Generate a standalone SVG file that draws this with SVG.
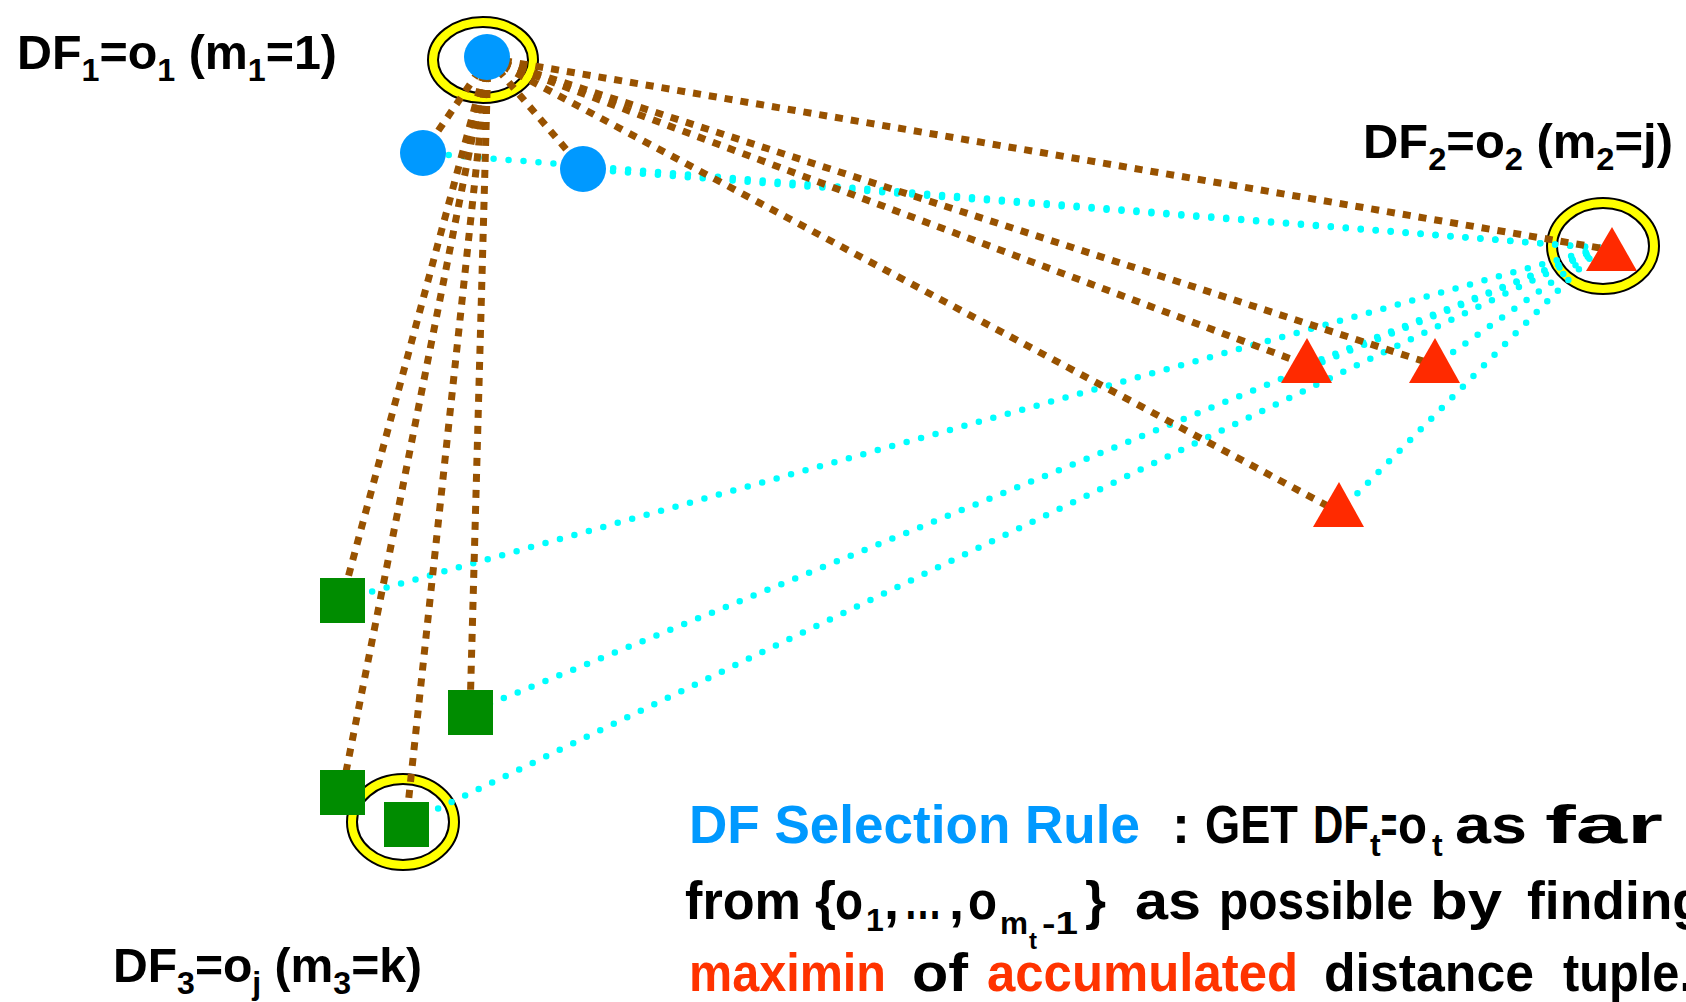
<svg xmlns="http://www.w3.org/2000/svg" width="1686" height="1002" viewBox="0 0 1686 1002">
<style>
.brown{stroke:#985200;stroke-width:7;stroke-dasharray:8 8;fill:none}
.cyan{stroke:#00FFFF;stroke-width:6.5;stroke-linecap:round;stroke-dasharray:0 15;fill:none}
.ringO{fill:none;stroke:#000;stroke-width:12}
.ringI{fill:none;stroke:#FFFF00;stroke-width:8}
.blue{fill:#0099FF}
.red{fill:#FF2A00}
.green{fill:#008C00}
.lbl{font-family:"Liberation Sans",Arial,sans-serif;font-weight:bold;font-size:48px;fill:#000}
.rule{font-family:"Liberation Sans",Arial,sans-serif;font-weight:bold;font-size:54px;fill:#000}
.sub{font-size:32px}
.cb{fill:#0099FF}
.cr{fill:#FF3300}
</style>
<rect width="1686" height="1002" fill="#fff"/>
<g id="highlights">
<ellipse class="ringO" cx="483" cy="60" rx="50" ry="38"/><ellipse class="ringI" cx="483" cy="60" rx="50" ry="38"/>
<ellipse class="ringO" cx="1603" cy="246" rx="51" ry="43"/><ellipse class="ringI" cx="1603" cy="246" rx="51" ry="43"/>
<ellipse class="ringO" cx="403" cy="822" rx="51" ry="43"/><ellipse class="ringI" cx="403" cy="822" rx="51" ry="43"/>
</g>
<g id="connectors">
<g class="cyan">
<line x1="1600" y1="248" x2="423" y2="153"/>
<line x1="1600" y1="248" x2="583" y2="169"/>
<line x1="1600" y1="248" x2="1307" y2="365"/>
<line x1="1600" y1="248" x2="1435" y2="365"/>
<line x1="1600" y1="248" x2="1339" y2="512"/>
<line x1="1600" y1="248" x2="342" y2="600"/>
<line x1="1600" y1="248" x2="470" y2="712"/>
<line x1="1600" y1="248" x2="406" y2="824"/>
</g>
<g class="brown">
<line x1="488" y1="58" x2="423" y2="153"/>
<line x1="488" y1="58" x2="583" y2="169"/>
<line x1="488" y1="58" x2="1600" y2="248"/>
<line x1="488" y1="58" x2="1307" y2="365"/>
<line x1="488" y1="58" x2="1435" y2="365"/>
<line x1="488" y1="58" x2="1339" y2="512"/>
<line x1="488" y1="58" x2="342" y2="600"/>
<line x1="488" y1="58" x2="470" y2="712"/>
<line x1="488" y1="58" x2="342" y2="792"/>
<line x1="488" y1="58" x2="406" y2="824"/>
</g>
</g>
<g id="o1"><circle class="blue" cx="487" cy="57" r="23"/></g>
<g id="b2"><circle class="blue" cx="423" cy="153" r="23"/></g>
<g id="b3"><circle class="blue" cx="583" cy="169" r="23"/></g>
<g id="o2"><polygon class="red" points="1612,227 1637,271 1586,271"/></g>
<g id="t2"><polygon class="red" points="1307,338 1332,383 1281,383"/></g>
<g id="t3"><polygon class="red" points="1435,338 1460,383 1409,383"/></g>
<g id="t4"><polygon class="red" points="1339,482 1364,527 1313,527"/></g>
<g id="sqA"><rect class="green" x="320" y="578" width="45" height="45"/></g>
<g id="sqB"><rect class="green" x="448" y="690" width="45" height="45"/></g>
<g id="sqC"><rect class="green" x="320" y="770" width="45" height="45"/></g>
<g id="sqD"><rect class="green" x="384" y="802" width="45" height="45"/></g>
<g id="label1"><text class="lbl" x="17" y="69" textLength="320" lengthAdjust="spacingAndGlyphs">DF<tspan class="sub" dy="12">1</tspan><tspan dy="-12">=o</tspan><tspan class="sub" dy="12">1</tspan><tspan dy="-12"> (m</tspan><tspan class="sub" dy="12">1</tspan><tspan dy="-12">=1)</tspan></text></g>
<g id="label2"><text class="lbl" x="1363" y="158" textLength="310" lengthAdjust="spacingAndGlyphs">DF<tspan class="sub" dy="12">2</tspan><tspan dy="-12">=o</tspan><tspan class="sub" dy="12">2</tspan><tspan dy="-12"> (m</tspan><tspan class="sub" dy="12">2</tspan><tspan dy="-12">=j)</tspan></text></g>
<g id="label3"><text class="lbl" x="113" y="982" textLength="309" lengthAdjust="spacingAndGlyphs">DF<tspan class="sub" dy="12">3</tspan><tspan dy="-12">=o</tspan><tspan class="sub" dy="12">j</tspan><tspan dy="-12"> (m</tspan><tspan class="sub" dy="12">3</tspan><tspan dy="-12">=k)</tspan></text></g>
<g id="rule">
<text class="rule" y="843"><tspan class="cb" x="689" textLength="451" lengthAdjust="spacingAndGlyphs">DF Selection Rule</tspan><tspan x="1172">:</tspan><tspan x="1205" textLength="93" lengthAdjust="spacingAndGlyphs">GET</tspan><tspan x="1313" textLength="56" lengthAdjust="spacingAndGlyphs">DF</tspan><tspan class="sub" x="1370" y="856">t</tspan><tspan x="1381" y="843" textLength="16" lengthAdjust="spacingAndGlyphs">=</tspan><tspan x="1398" textLength="29" lengthAdjust="spacingAndGlyphs">o</tspan><tspan class="sub" x="1432" y="856">t</tspan><tspan x="1455" y="843" textLength="72" lengthAdjust="spacingAndGlyphs">as</tspan><tspan x="1545" textLength="118" lengthAdjust="spacingAndGlyphs">far</tspan></text>
<text class="rule" y="919"><tspan x="685" textLength="116" lengthAdjust="spacingAndGlyphs">from</tspan><tspan x="815">{</tspan><tspan x="835" textLength="28" lengthAdjust="spacingAndGlyphs">o</tspan><tspan class="sub" x="866" y="931">1</tspan><tspan x="884" y="919">,</tspan><tspan x="904" textLength="38" lengthAdjust="spacingAndGlyphs">…</tspan><tspan x="949">,</tspan><tspan x="968" textLength="29" lengthAdjust="spacingAndGlyphs">o</tspan><tspan class="sub" x="1000" y="934" textLength="28" lengthAdjust="spacingAndGlyphs">m</tspan><tspan x="1029" y="949" font-size="24">t</tspan><tspan class="sub" x="1042" y="934" textLength="36" lengthAdjust="spacingAndGlyphs">-1</tspan><tspan x="1085" y="919">}</tspan><tspan x="1135" textLength="66" lengthAdjust="spacingAndGlyphs">as</tspan><tspan x="1219" textLength="194" lengthAdjust="spacingAndGlyphs">possible</tspan><tspan x="1430" textLength="72" lengthAdjust="spacingAndGlyphs">by</tspan><tspan x="1527" textLength="178" lengthAdjust="spacingAndGlyphs">finding</tspan></text>
<text class="rule" y="991"><tspan class="cr" x="689" textLength="197" lengthAdjust="spacingAndGlyphs">maximin</tspan><tspan x="912" textLength="56" lengthAdjust="spacingAndGlyphs">of</tspan><tspan class="cr" x="987" textLength="311" lengthAdjust="spacingAndGlyphs">accumulated</tspan><tspan x="1324" textLength="210" lengthAdjust="spacingAndGlyphs">distance</tspan><tspan x="1563" textLength="130" lengthAdjust="spacingAndGlyphs">tuple.</tspan></text>
</g>
</svg>
